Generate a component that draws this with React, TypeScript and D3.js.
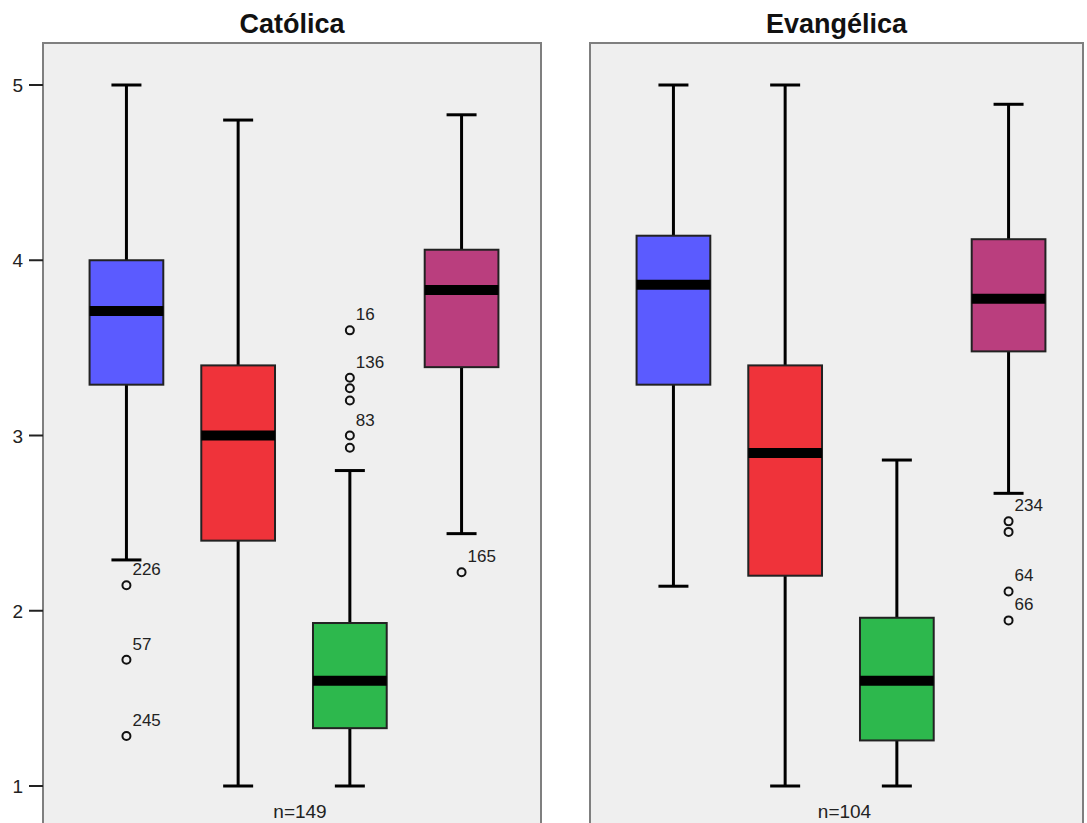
import React from "react";
import * as d3 from "d3";

// ---- data ----
const panelTitles = ["Católica", "Evangélica"];
const panelN = [149, 104];
const groups = ["g1", "g2", "g3", "g4"];
const groupColors = ["#5B5BFF", "#EF333A", "#2DB84D", "#BA3E7E"];

// Católica statistics (per group)
const catLow = [2.29, 1.0, 1.0, 2.44];
const catQ1 = [3.29, 2.4, 1.33, 3.39];
const catMedian = [3.71, 3.0, 1.6, 3.83];
const catQ3 = [4.0, 3.4, 1.93, 4.06];
const catHigh = [5.0, 4.8, 2.8, 4.83];
const catOutliers = [
  { g: 0, v: 2.145, label: "226" },
  { g: 0, v: 1.72, label: "57" },
  { g: 0, v: 1.285, label: "245" },
  { g: 2, v: 3.6, label: "16" },
  { g: 2, v: 3.33, label: "136" },
  { g: 2, v: 3.27, label: "" },
  { g: 2, v: 3.2, label: "" },
  { g: 2, v: 3.0, label: "83" },
  { g: 2, v: 2.93, label: "" },
  { g: 3, v: 2.22, label: "165" },
];

// Evangélica statistics (per group)
const evaLow = [2.14, 1.0, 1.0, 2.67];
const evaQ1 = [3.29, 2.2, 1.26, 3.48];
const evaMedian = [3.86, 2.9, 1.6, 3.78];
const evaQ3 = [4.14, 3.4, 1.96, 4.12];
const evaHigh = [5.0, 5.0, 2.86, 4.89];
const evaOutliers = [
  { g: 3, v: 2.51, label: "234" },
  { g: 3, v: 2.45, label: "" },
  { g: 3, v: 2.11, label: "64" },
  { g: 3, v: 1.945, label: "66" },
];

const yTicks = [1, 2, 3, 4, 5];

const panelStats = [
  { low: catLow, q1: catQ1, med: catMedian, q3: catQ3, high: catHigh, out: catOutliers },
  { low: evaLow, q1: evaQ1, med: evaMedian, q3: evaQ3, high: evaHigh, out: evaOutliers },
];

// ---- layout ----
const W = 1087;
const H = 823;
const panelX = [43, 590];
const panelW = [498, 493];
const panelTop = 43;
const FONT = "'Liberation Sans', Arial, sans-serif";

export default function App() {
  const y = d3.scaleLinear().domain([1, 5]).range([786, 85]);
  const capW = 30;

  return (
    <svg
      width={W}
      height={H}
      style={{ position: "absolute", left: 0, top: 0, background: "#fff" }}
      fontFamily={FONT}
    >
      {panelTitles.map((title, pi) => {
        const x0 = panelX[pi];
        const w = panelW[pi];
        const x = d3
          .scaleBand()
          .domain(groups)
          .range([x0 + 2, x0 + 500])
          .paddingInner(0.34)
          .paddingOuter(0.399);
        const bw = x.bandwidth();
        const s = panelStats[pi];
        return (
          <g key={title}>
            <rect
              x={x0}
              y={panelTop}
              width={w}
              height={H - panelTop + 20}
              fill="#EFEFEF"
              stroke="#7f7f7f"
              strokeWidth={2}
            />
            <text
              x={x0 + w / 2}
              y={33}
              textAnchor="middle"
              fontSize={27}
              fontWeight="bold"
              fill="#111"
            >
              {title}
            </text>
            {groups.map((g, gi) => {
              const cx = (x(g) as number) + bw / 2;
              const bx = x(g) as number;
              return (
                <g key={g}>
                  <line x1={cx} x2={cx} y1={y(s.high[gi])} y2={y(s.q3[gi])} stroke="#000" strokeWidth={3} />
                  <line x1={cx} x2={cx} y1={y(s.q1[gi])} y2={y(s.low[gi])} stroke="#000" strokeWidth={3} />
                  <line x1={cx - capW / 2} x2={cx + capW / 2} y1={y(s.high[gi])} y2={y(s.high[gi])} stroke="#000" strokeWidth={3} />
                  <line x1={cx - capW / 2} x2={cx + capW / 2} y1={y(s.low[gi])} y2={y(s.low[gi])} stroke="#000" strokeWidth={3} />
                  <rect
                    x={bx}
                    y={y(s.q3[gi])}
                    width={bw}
                    height={y(s.q1[gi]) - y(s.q3[gi])}
                    fill={groupColors[gi]}
                    stroke="#222"
                    strokeWidth={2}
                  />
                  <line x1={bx} x2={bx + bw} y1={y(s.med[gi])} y2={y(s.med[gi])} stroke="#000" strokeWidth={10} />
                </g>
              );
            })}
            {s.out.map((o, oi) => {
              const cx = (x(groups[o.g]) as number) + bw / 2;
              const cy = y(o.v);
              return (
                <g key={oi}>
                  <circle cx={cx} cy={cy} r={4} fill="none" stroke="#111" strokeWidth={2} />
                  {o.label && (
                    <text x={cx + 6} y={cy - 10} fontSize={17} fill="#222">
                      {o.label}
                    </text>
                  )}
                </g>
              );
            })}
            <text x={x0 + w / 2 + 8} y={818} textAnchor="middle" fontSize={19} fill="#222">
              {`n=${panelN[pi]}`}
            </text>
          </g>
        );
      })}
      {yTicks.map((t) => (
        <g key={t}>
          <line x1={29} x2={43} y1={y(t)} y2={y(t)} stroke="#222" strokeWidth={2} />
          <text x={23} y={y(t) + 7} textAnchor="end" fontSize={19} fill="#222">
            {t}
          </text>
        </g>
      ))}
    </svg>
  );
}
